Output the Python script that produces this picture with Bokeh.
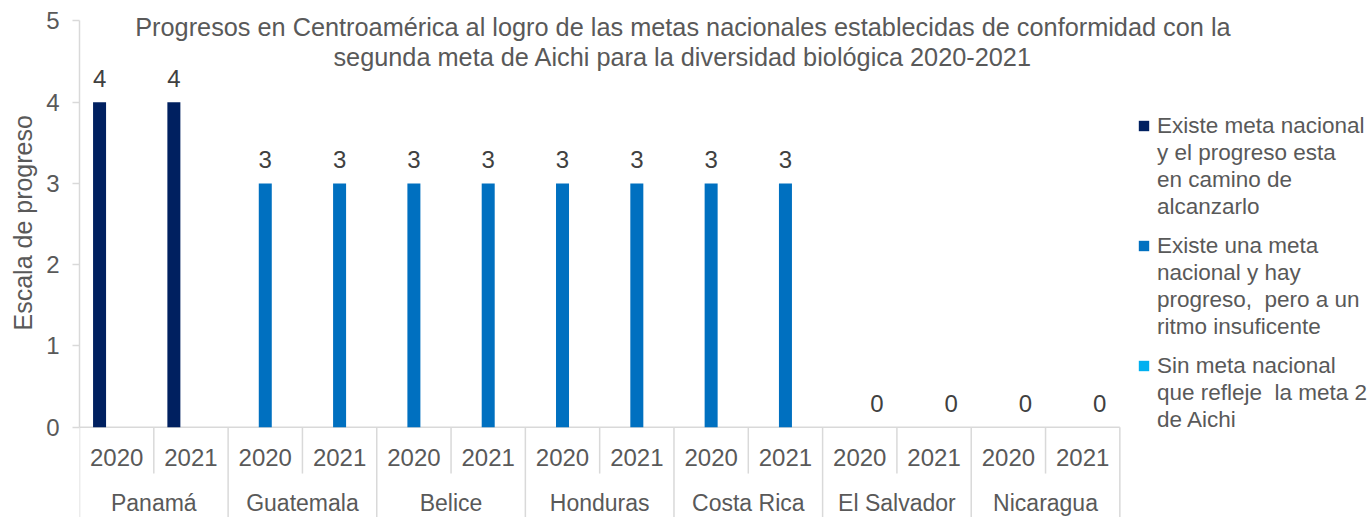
import math
from bokeh.plotting import figure
from bokeh.models import (Range1d, ColumnDataSource, FixedTicker, Label, Legend, LegendItem, Title)
from bokeh.embed import file_html
from bokeh.resources import INLINE
from bokeh.core.properties import value

# ---------------- data ----------------
countries = ["Panamá", "Guatemala", "Belice", "Honduras", "Costa Rica", "El Salvador", "Nicaragua"]
years = ["2020", "2021"]
series_names = [
    ["Existe meta nacional", "y el progreso esta", "en camino de", "alcanzarlo"],
    ["Existe una meta", "nacional y hay", "progreso,  pero a un", "ritmo insuficente"],
    ["Sin meta nacional", "que refleje  la meta 2", "de Aichi"],
]
nan = float("nan")
# order: Panamá 2020, Panamá 2021, Guatemala 2020, ...
serie_1 = [4, 4, nan, nan, nan, nan, nan, nan, nan, nan, nan, nan, nan, nan]
serie_2 = [nan, nan, 3, 3, 3, 3, 3, 3, 3, 3, nan, nan, nan, nan]
serie_3 = [nan, nan, nan, nan, nan, nan, nan, nan, nan, nan, 0, 0, 0, 0]
colors = ["#002060", "#0070C0", "#00B0F0"]
title_lines = ["Progresos en Centroamérica al logro de las metas nacionales establecidas de conformidad con la",
               "segunda meta de Aichi para la diversidad biológica 2020-2021"]
y_title = "Escala de progreso"
y_ticks = [0, 1, 2, 3, 4, 5]

FONT = "Liberation Sans"
GRAY = "#595959"
LINE = "#d9d9d9"

# category positions (one unit per country/year slot)
n_cat = len(countries) * len(years)
cat_labels = [y for c in countries for y in years]
cat_x = [i + 0.5 for i in range(n_cat)]
country_x = [len(years) * i + len(years) / 2 for i in range(len(countries))]

p = figure(width=1372, height=517,
           x_range=Range1d(0, 17.40), y_range=Range1d(-1.111, 5.252),
           x_axis_location=None,
           output_backend="svg", toolbar_location=None,
           min_border_left=79, min_border_right=0, min_border_top=0,
           min_border_bottom=0)
p.outline_line_color = None
p.xgrid.visible = False
p.ygrid.visible = False

ax = p.yaxis[0]
ax.ticker = FixedTicker(ticks=y_ticks)
ax.bounds = (0, 5)
ax.axis_line_color = LINE
ax.axis_line_width = 1.5
ax.major_tick_line_color = LINE
ax.major_tick_line_width = 1.5
ax.major_tick_out = 7
ax.major_tick_in = 0
ax.minor_tick_line_color = None
ax.major_label_text_font = FONT
ax.major_label_text_font_size = "24px"
ax.major_label_text_color = GRAY
ax.major_label_standoff = 13

# y axis title (left panel, shifted up like the reference)
p.add_layout(Title(text=y_title, align="left", offset=187, text_font=FONT,
                   text_font_size="25px", text_font_style="normal",
                   text_color=GRAY, standoff=13), "left")

# horizontal axis line at 0
p.segment(x0=[0], x1=[n_cat], y0=[0], y1=[0], line_color=LINE, line_width=1.5)

# separators
p.segment(x0=[len(years) * i for i in range(len(countries) + 1)],
          x1=[len(years) * i for i in range(len(countries) + 1)],
          y0=0, y1=-1.2, line_color=LINE, line_width=1.5)
p.segment(x0=[len(years) * i + 1 for i in range(len(countries))],
          x1=[len(years) * i + 1 for i in range(len(countries))],
          y0=0, y1=-0.57, line_color=LINE, line_width=1.5)

# category labels
p.text(x=cat_x, y=[-0.373] * n_cat, text=cat_labels,
       text_font=value(FONT), text_font_size="24px", text_color=GRAY,
       text_align="center", text_baseline="alphabetic")
p.text(x=country_x, y=[-0.93] * len(countries), text=countries,
       text_font=value(FONT), text_font_size="23px", text_color=GRAY,
       text_align="center", text_baseline="alphabetic")

# bars
offsets = [-0.23, 0.0, 0.23]
legend_y = [297, 177, 84]
for vals, name_lines, col, off, ly in zip([serie_1, serie_2, serie_3], series_names,
                                           colors, offsets, legend_y):
    src = ColumnDataSource(dict(x=[cx + off for cx in cat_x], y=vals,
                                lab=["" if math.isnan(v) else str(int(v)) for v in vals]))
    r = p.vbar(x="x", top="y", bottom=0, width=0.175,
               source=src, fill_color=col, line_color=None)
    p.text(x="x", y="y", text="lab", source=src,
           text_font=value(FONT), text_font_size="24px", text_color="#404040",
           text_align="center", text_baseline="alphabetic", y_offset=-24)
    items = [LegendItem(label=ln, renderers=[r] if j == 0 else [])
             for j, ln in enumerate(name_lines)]
    legend = Legend(items=items, location=(1058, ly), border_line_color=None,
                    background_fill_alpha=0, padding=0, margin=0, spacing=0,
                    label_text_font=FONT, label_text_font_size="22.5px",
                    label_text_color=GRAY, label_height=27,
                    label_standoff=7, glyph_width=13, glyph_height=13)
    p.add_layout(legend)

# title
for txt, yy in zip(title_lines, [4.92, 4.551]):
    p.add_layout(Label(x=8.12, y=yy, text=txt, text_font=FONT, text_font_size="25.3px",
                       text_color=GRAY, text_align="center", text_baseline="alphabetic"))

open("out.html", "w").write(file_html(p, INLINE))
